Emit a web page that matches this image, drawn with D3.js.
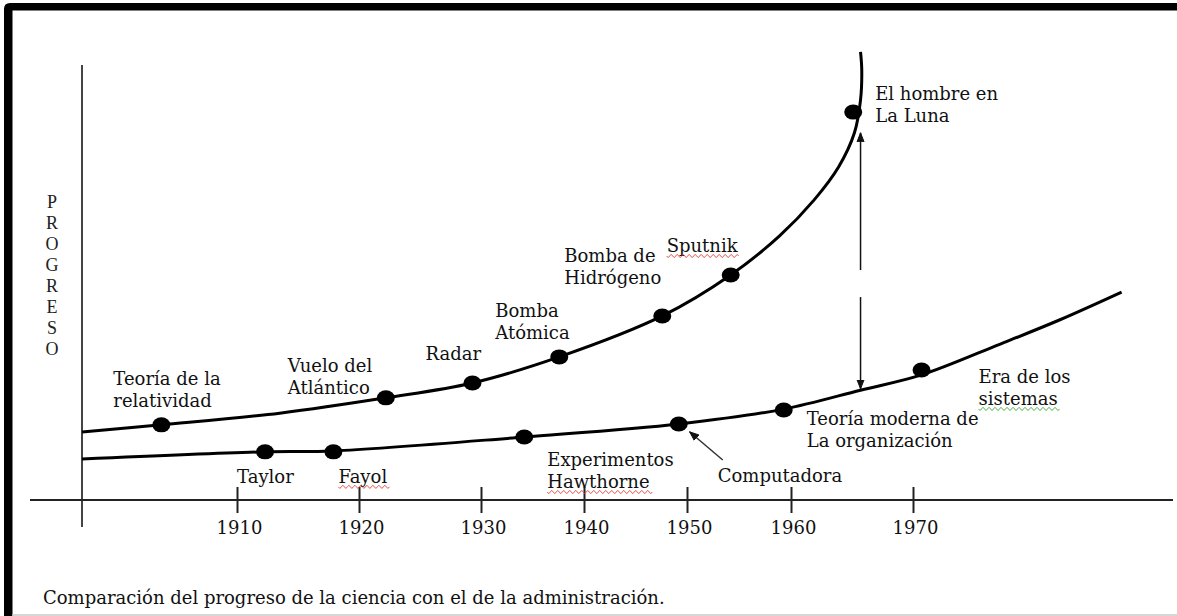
<!DOCTYPE html>
<html><head><meta charset="utf-8">
<script src="https://cdn.jsdelivr.net/npm/d3@7"></script>
<style>html,body{margin:0;padding:0;background:#fff;overflow:hidden}</style>
</head><body><svg id="chart" width="1177" height="616"></svg>
<script>
// ---------- data ----------
const tickYears = [1910, 1920, 1930, 1940, 1950, 1960, 1970];
const yAxisLetters = ["P","R","O","G","R","E","S","O"];
const caption = "Comparación del progreso de la ciencia con el de la administración.";

// progress curve of science (year, progress 0-100)
const scienceCurveYears  = [1897.3, 1903.8, 1913.5, 1922.2, 1929.3, 1937.6, 1947.6, 1954.2, 1958.9, 1961.9, 1963.9, 1965.2, 1965.7, 1965.8, 1965.7];
const scienceCurveValues = [15.1, 16.7, 19.3, 22.7, 26.0, 31.8, 40.9, 50.0, 58.7, 66.7, 74.0, 81.6, 88.9, 95.6, 99.6];

// progress curve of administration
const adminCurveYears  = [1897.3, 1912.3, 1917.9, 1934.2, 1949.2, 1959.3, 1965.7, 1970.7, 1977.1, 1982.0, 1987.1];
const adminCurveValues = [9.1, 10.7, 10.9, 14.0, 16.9, 20.2, 24.4, 27.8, 34.6, 40.0, 46.2];

// events on the science curve
const scienceEventLabels = ["Teoría de la|relatividad", "Vuelo del|Atlántico", "Radar", "Bomba|Atómica", "Bomba de|Hidrógeno", "Sputnik", "El hombre en|La Luna"];
const scienceEventYears  = [1903.8, 1922.2, 1929.3, 1937.6, 1947.6, 1954.2, 1965.1];
const scienceEventValues = [16.7, 22.7, 26.0, 31.8, 40.9, 50.0, 86.2];

// events on the administration curve
const adminEventLabels = ["Taylor", "Fayol", "Experimentos|Hawthorne", "Computadora", "Teoría moderna de|La organización", "Era de los|sistemas"];
const adminEventYears  = [1912.3, 1917.9, 1934.2, 1949.2, 1959.3, 1970.7];
const adminEventValues = [10.7, 10.7, 14.0, 16.9, 20.0, 28.9];

// gap arrows (year, from value, to value)
const gapArrowYear = 1965.7;
const gapArrowUp   = [51.1, 81.6];
const gapArrowDown = [45.1, 24.7];

// ---------- layout ----------
const W = 1177, H = 616;
const tickPx = [237, 359, 481, 584, 687, 791, 913];
const x = d3.scaleLinear().domain(tickYears).range(tickPx);
const y = d3.scaleLinear().domain([0, 100]).range([500, 50]);
const FONT = "'DejaVu Serif', serif";
const FS = 18;
const LH = 22;

// label offsets relative to dot (px)
const scienceLabelOffsets = [[-48,-40],[-98,-26],[-47,-23],[-64,-40],[-98,-54],[-64,-23],[22,-12]];
const adminLabelOffsets   = [[-28,31],[5,31],[23,29],[39,58],[23,15],[57,13]];
const squiggles = {"Sputnik":"#e0403a","Fayol":"#e0403a","Hawthorne":"#e0403a","sistemas":"#3aa63a"};

const svg = d3.select("#chart");
svg.append("rect").attr("width", W).attr("height", H).attr("fill", "#fff");

// frame
svg.append("path")
  .attr("d", `M4,616 L4,9 Q4,3 10,3 L1177,3 L1177,10.5 L12.5,10.5 L12.5,616 Z`)
  .attr("fill", "#000");
svg.append("line").attr("x1", 12).attr("x2", W).attr("y1", 615).attr("y2", 615)
  .attr("stroke", "#c8c8c8").attr("stroke-width", 1.5);

const defs = svg.append("defs");
defs.append("marker").attr("id", "ah").attr("viewBox", "0 0 10 10")
  .attr("refX", 9).attr("refY", 5).attr("markerWidth", 10).attr("markerHeight", 10)
  .attr("markerUnits", "userSpaceOnUse").attr("orient", "auto")
  .append("path").attr("d", "M0,1.5 L9,5 L0,8.5 Z").attr("fill", "#111").attr("stroke", "#111").attr("stroke-width", 1);

// y axis line
svg.append("line").attr("x1", 82).attr("x2", 82).attr("y1", 65).attr("y2", 527)
  .attr("stroke", "#444").attr("stroke-width", 2);

// x axis
const xAxis = d3.axisBottom(x).tickValues(tickYears).tickFormat(d3.format("d")).tickSize(0);
const gx = svg.append("g").attr("transform", "translate(0,500)").call(xAxis);
gx.select(".domain").remove();
gx.selectAll("text").attr("font-family", FONT).attr("font-size", FS).attr("fill", "#111")
  .attr("y", 34).attr("dy", 0).attr("dx", 2);
gx.selectAll(".tick").append("line").attr("y1", -13).attr("y2", 13).attr("stroke", "#222").attr("stroke-width", 2);
svg.append("line").attr("x1", 30).attr("x2", 1173).attr("y1", 500).attr("y2", 500)
  .attr("stroke", "#222").attr("stroke-width", 2);

// y axis title, stacked letters
svg.append("g").selectAll("text").data(yAxisLetters).join("text")
  .attr("x", 52).attr("y", (d, i) => 208 + i * 21)
  .attr("text-anchor", "middle").attr("font-family", "'Liberation Serif', serif")
  .attr("font-size", 18).attr("fill", "#222").text(d => d);

// curves
const line = d3.line().x(d => x(d[0])).y(d => y(d[1])).curve(d3.curveCatmullRom.alpha(0.5));
svg.append("path").datum(d3.zip(scienceCurveYears, scienceCurveValues)).attr("d", line)
  .attr("fill", "none").attr("stroke", "#000").attr("stroke-width", 3);
svg.append("path").datum(d3.zip(adminCurveYears, adminCurveValues)).attr("d", line)
  .attr("fill", "none").attr("stroke", "#000").attr("stroke-width", 3);

// dots + labels
function drawEvents(labels, years, values, offsets) {
  const g = svg.append("g");
  g.selectAll("ellipse").data(years).join("ellipse")
    .attr("cx", (d) => x(d)).attr("cy", (d, i) => y(values[i]))
    .attr("rx", 9).attr("ry", 7.5).attr("fill", "#000");
  labels.forEach((lab, i) => {
    const px = x(years[i]) + offsets[i][0];
    const py = y(values[i]) + offsets[i][1];
    const t = g.append("text").attr("font-family", FONT).attr("font-size", FS).attr("fill", "#111");
    lab.split("|").forEach((ln, j) => {
      const ts = t.append("tspan").attr("x", px).attr("y", py + j * LH).text(ln);
      if (squiggles[ln]) {
        const w = ts.node().getComputedTextLength();
        const sy = py + j * LH + 4;
        let d = `M${px},${sy}`;
        for (let k = 0; k * 3 < w; k++) d += ` l1.5,${k % 2 ? -1.6 : 1.6} l1.5,${k % 2 ? 1.6 : -1.6}`;
        g.append("path").attr("d", d).attr("fill", "none").attr("stroke", squiggles[ln]).attr("stroke-width", 0.9);
      }
    });
  });
}
drawEvents(scienceEventLabels, scienceEventYears, scienceEventValues, scienceLabelOffsets);
drawEvents(adminEventLabels, adminEventYears, adminEventValues, adminLabelOffsets);

// gap arrows
[gapArrowUp, gapArrowDown].forEach(a => {
  svg.append("line").attr("x1", x(gapArrowYear)).attr("x2", x(gapArrowYear))
    .attr("y1", y(a[0])).attr("y2", y(a[1]))
    .attr("stroke", "#111").attr("stroke-width", 1.5).attr("marker-end", "url(#ah)");
});

// computadora pointer arrow
const ci = adminEventLabels.indexOf("Computadora");
const cx0 = x(adminEventYears[ci]), cy0 = y(adminEventValues[ci]);
svg.append("line").attr("x1", cx0 + 44).attr("y1", cy0 + 36).attr("x2", cx0 + 11).attr("y2", cy0 + 8)
  .attr("stroke", "#333").attr("stroke-width", 1.5).attr("marker-end", "url(#ah)");

// caption
svg.append("text").attr("x", 43).attr("y", 604).attr("font-family", FONT).attr("font-size", FS)
  .attr("fill", "#111").text(caption);
</script>
</body></html>
